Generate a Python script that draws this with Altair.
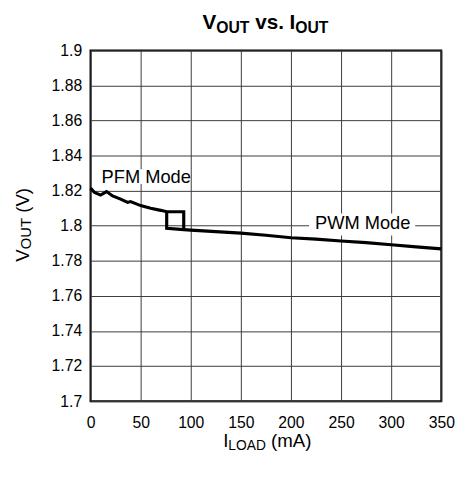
import altair as alt
import pandas as pd

# ---- data ----
# PFM branch (rising load): PFM curve, top of hysteresis loop, drop to PWM at ~93 mA
pfm_i = [0, 4, 10, 16, 22, 30, 37, 40, 50, 60, 70, 76, 93, 93]
pfm_v = [1.8215, 1.8190, 1.8175, 1.8195, 1.8170, 1.8152, 1.8133, 1.8138,
         1.8115, 1.8100, 1.8088, 1.8080, 1.8080, 1.7978]
# PWM branch (falling load back to ~76 mA jumps up to PFM)
pwm_i = [76, 76, 93, 100, 125, 150, 175, 200, 225, 250, 275, 300, 325, 350]
pwm_v = [1.8080, 1.7985, 1.7978, 1.7975, 1.7967, 1.7958, 1.7946, 1.7932,
         1.7924, 1.7913, 1.7904, 1.7892, 1.7880, 1.7868]

x_ticks = [0, 50, 100, 150, 200, 250, 300, 350]
y_ticks = [1.7, 1.72, 1.74, 1.76, 1.78, 1.8, 1.82, 1.84, 1.86, 1.88, 1.9]

labels = ["PFM Mode", "PWM Mode"]
label_i = [11, 224]
label_v = [1.8245, 1.7979]
box_i1 = [5, 218]
box_i2 = [98, 324]
box_v1 = [1.8238, 1.7945]
box_v2 = [1.8322, 1.8070]

FONT = "Liberation Sans"

rows = []
for k, (i, v) in enumerate(zip(pfm_i, pfm_v)):
    rows.append({"I": i, "V": v, "branch": "PFM", "k": k})
for k, (i, v) in enumerate(zip(pwm_i, pwm_v)):
    rows.append({"I": i, "V": v, "branch": "PWM", "k": k})
df = pd.DataFrame(rows)

lab_df = pd.DataFrame({"label": labels, "I": label_i, "V": label_v})
box_df = pd.DataFrame({"i1": box_i1, "i2": box_i2, "v1": box_v1, "v2": box_v2})

xs = alt.Scale(domain=[0, 350], nice=False, zero=False)
ys = alt.Scale(domain=[1.7, 1.9], nice=False, zero=False)

common = dict(title=None, grid=True, ticks=False, tickSize=0, domain=False,
              labelFontSize=16, labelFont=FONT, labelColor="black",
              labelOverlap=False, labelFlush=False,
              gridColor="#3a3a3a", gridWidth=1, gridOpacity=1)
xaxis = alt.Axis(values=x_ticks, labelPadding=14, **common)
yaxis = alt.Axis(values=y_ticks, labelPadding=9, format=".2~f", **common)

boxes = alt.Chart(box_df).mark_rect(color="white").encode(
    x=alt.X("i1:Q", scale=xs, axis=xaxis), x2="i2:Q",
    y=alt.Y("v1:Q", scale=ys, axis=yaxis), y2="v2:Q",
)

line = alt.Chart(df).mark_line(color="black", strokeWidth=3.2, strokeJoin="miter").encode(
    x=alt.X("I:Q", scale=xs, axis=xaxis),
    y=alt.Y("V:Q", scale=ys, axis=yaxis),
    detail="branch:N",
    order="k:O",
)

texts = alt.Chart(lab_df).mark_text(align="left", baseline="alphabetic",
                                    font=FONT, fontSize=18.6, color="black").encode(
    x=alt.X("I:Q", scale=xs, axis=xaxis), y=alt.Y("V:Q", scale=ys, axis=yaxis),
    text="label:N")

one = pd.DataFrame({"a": [0]})


def piece(txt, x, y, size, bold=False, angle=0):
    kw = dict(align="left", baseline="alphabetic", font=FONT, fontSize=size,
              color="black", fontWeight="bold" if bold else "normal")
    if angle:
        kw["angle"] = angle
    return alt.Chart(one).mark_text(**kw).encode(
        x=alt.value(x), y=alt.value(y), text=alt.value(txt))


# chart title: V_OUT vs. I_OUT
title_parts = [
    piece("V", 114, -22, 21, True),
    piece("OUT", 128, -18, 16, True),
    piece("vs.", 167.6, -22, 21, True),
    piece("I", 202.6, -22, 21, True),
    piece("OUT", 208.4, -18, 16, True),
]
# x title: I_LOAD (mA)
xt = [
    piece("I", 135, 404, 19),
    piece("LOAD", 140.3, 407, 14),
    piece("(mA)", 183.7, 404, 19),
]
# y title: V_OUT (V)
yt = [
    piece("V", -63, 215, 19, angle=270),
    piece("OUT", -61, 202.3, 15, angle=270),
    piece("(V)", -63, 165.3, 19, angle=270),
]

chart = alt.layer(boxes, line, texts, *title_parts, *xt, *yt).properties(
    width=357, height=357,
    autosize=alt.AutoSizeParams(type="none"),
    padding={"left": 84, "top": 39, "right": 16, "bottom": 70},
).configure_view(stroke="black", strokeWidth=2)

chart.save("out.html", embed_options={"renderer": "svg", "actions": False})
